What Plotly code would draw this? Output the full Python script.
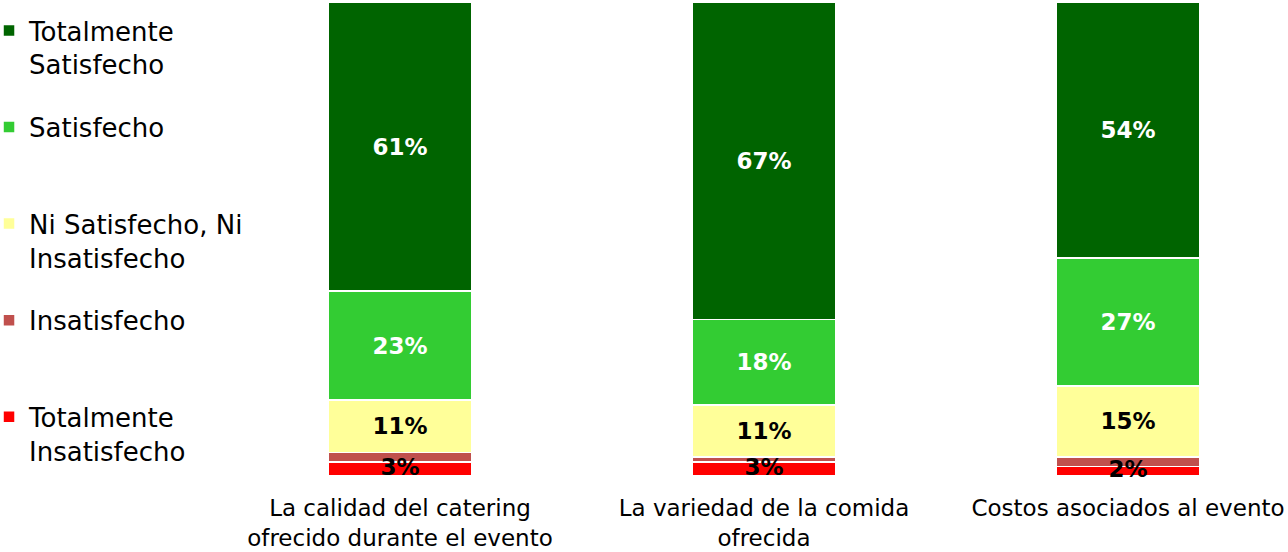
import plotly.graph_objects as go

# Survey categories (x axis)
categories = [
    "La calidad del catering<br>ofrecido durante el evento",
    "La variedad de la comida<br>ofrecida",
    "Costos asociados al evento",
]

# Percentages per satisfaction level, one value per category
totalmente_insatisfecho = [3, 3, 2]
insatisfecho = [2, 1, 2]
ni_ni = [11, 11, 15]
satisfecho = [23, 18, 27]
totalmente_satisfecho = [61, 67, 54]

# Series in stacking order (bottom to top); last flag = label drawn inside the bar
series = [
    ("Totalmente<br>Insatisfecho", totalmente_insatisfecho, "#FF0000", "black", False),
    ("Insatisfecho<br> ", insatisfecho, "#C0504D", "black", False),
    ("Ni Satisfecho, Ni<br>Insatisfecho", ni_ni, "#FFFF99", "black", True),
    ("Satisfecho<br> ", satisfecho, "#33CC33", "white", True),
    ("Totalmente<br>Satisfecho", totalmente_satisfecho, "#006400", "white", True),
]

label_font = dict(family="DejaVu Sans", size=23, weight="bold")

n = len(series)
fig = go.Figure()
for i, (name, vals, color, txtcolor, show_text) in enumerate(series):
    fig.add_trace(go.Bar(
        x=categories,
        y=vals,
        name=name,
        legendgroup=f"g{n - i}",
        legendrank=n - i,
        width=0.396,
        marker=dict(color=color, line=dict(color="white", width=1.5)),
        text=[f"{v}%" for v in vals] if show_text else None,
        texttemplate="%{text}" if show_text else None,
        textposition="inside" if show_text else "none",
        insidetextanchor="middle",
        textangle=0,
        constraintext="none",
        cliponaxis=False,
        textfont=dict(**label_font, color=txtcolor),
        hoverinfo="skip",
    ))

# Labels of the thin bottom segment sit on top of the whole stack
fig.add_trace(go.Scatter(
    x=categories,
    y=[v / 2 for v in totalmente_insatisfecho],
    mode="text",
    text=[f"{v}%" for v in totalmente_insatisfecho],
    textposition="middle center",
    textfont=dict(**label_font, color="black"),
    showlegend=False,
    cliponaxis=False,
    hoverinfo="skip",
))

fig.update_layout(
    barmode="stack",
    width=1288,
    height=552,
    margin=dict(l=218, r=0, t=2, b=76, autoexpand=False),
    paper_bgcolor="white",
    plot_bgcolor="white",
    font=dict(family="DejaVu Sans", color="black"),
    showlegend=True,
    legend=dict(
        x=-0.2140,
        xanchor="left",
        y=0.9895,
        yanchor="top",
        traceorder="grouped",
        tracegroupgap=26,
        valign="top",
        font=dict(family="DejaVu Sans", size=26, color="black"),
        bgcolor="rgba(0,0,0,0)",
    ),
    xaxis=dict(
        range=[-0.5, 2.4396],
        automargin=False,
        showline=False,
        showgrid=False,
        zeroline=False,
        ticks="",
        ticklabelstandoff=16,
        tickfont=dict(family="DejaVu Sans", size=23, color="black"),
        fixedrange=True,
    ),
    yaxis=dict(
        range=[0, 100],
        visible=False,
        automargin=False,
        showgrid=False,
        zeroline=False,
        fixedrange=True,
    ),
)

fig.write_html("out.html")
